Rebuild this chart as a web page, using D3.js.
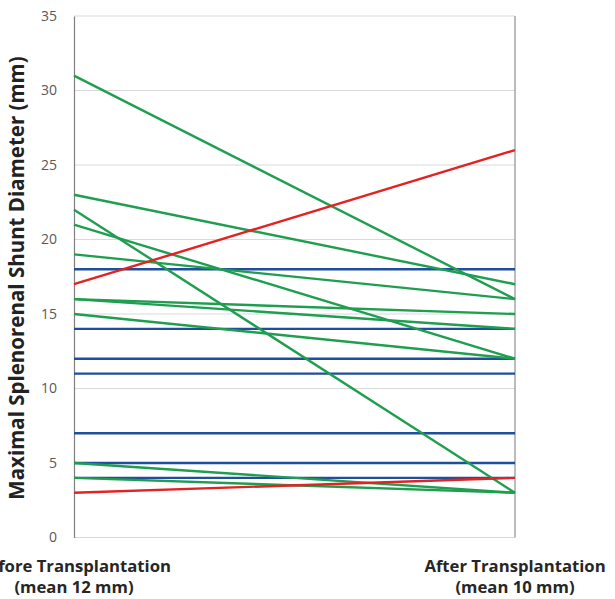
<!DOCTYPE html>
<html>
<head>
<meta charset="utf-8">
<script src="https://cdn.jsdelivr.net/npm/d3@7"></script>
<style>
  body { margin: 0; background: #fff; }
  svg { display: block; }
</style>
</head>
<body>
<div id="chart"></div>
<script>
// categories on the x axis, two lines of text each
const categories = ['before', 'after'];
const categoryLabels = [
  ['Before Transplantation', '(mean 12 mm)'],
  ['After Transplantation', '(mean 10 mm)']
];

// each patient: [before, after] in mm
const decreased = [
  [31, 16], [23, 17], [22, 3], [21, 12], [19, 16],
  [16, 15], [16, 14], [15, 12], [5, 3], [4, 3]
];
const unchanged = [
  [18, 18], [14, 14], [12, 12], [11, 11], [7, 7], [5, 5], [4, 4]
];
const increased = [
  [17, 26], [3, 4]
];

const yTicks = [0, 5, 10, 15, 20, 25, 30, 35];

const width = 615;
const height = 599;
const margin = { top: 16, right: 100, bottom: 61.5, left: 74 };
const font = '"Open Sans", Lato, sans-serif';

const svg = d3
  .select('#chart')
  .append('svg')
  .attr('width', width)
  .attr('height', height);

const x = d3
  .scalePoint()
  .domain(categories)
  .range([margin.left, width - margin.right]);

const y = d3
  .scaleLinear()
  .domain([0, 35])
  .range([height - margin.bottom, margin.top]);

// gridlines
svg
  .append('g')
  .selectAll('line')
  .data(yTicks)
  .enter()
  .append('line')
  .attr('x1', margin.left)
  .attr('x2', width - margin.right)
  .attr('y1', (d) => y(d))
  .attr('y2', (d) => y(d))
  .style('stroke', '#d9d9d9')
  .style('stroke-width', 1);

// y axis
const yAxis = svg
  .append('g')
  .attr('transform', 'translate(' + margin.left + ',0)')
  .call(d3.axisLeft(y).tickValues(yTicks).tickSize(0).tickPadding(17));
yAxis.select('.domain').style('stroke', '#7f7f7f').style('stroke-width', 1.2);
yAxis
  .selectAll('text')
  .style('font-family', font)
  .style('font-size', '14px')
  .style('fill', '#595959');

// right border
svg
  .append('line')
  .attr('x1', width - margin.right)
  .attr('x2', width - margin.right)
  .attr('y1', y(35))
  .attr('y2', y(0))
  .style('stroke', '#a6a6a6')
  .style('stroke-width', 1.5);

const line = d3
  .line()
  .x((d, i) => x(categories[i]))
  .y((d) => y(d));

const addGroup = (data, color) => {
  svg
    .append('g')
    .selectAll('path')
    .data(data)
    .enter()
    .append('path')
    .attr('d', line)
    .style('fill', 'none')
    .style('stroke', color)
    .style('stroke-width', 2.4);
};

addGroup(unchanged, '#1f4e9b');
addGroup(decreased, '#1f9e4f');
addGroup(increased, '#e32222');

// category labels
const catLabels = svg
  .append('g')
  .selectAll('text')
  .data(categoryLabels)
  .enter()
  .append('text')
  .attr('x', (d, i) => x(categories[i]))
  .attr('y', 572)
  .attr('text-anchor', 'middle')
  .style('font-family', font)
  .style('font-weight', 'bold')
  .style('font-size', '16.7px')
  .style('fill', '#262626');

catLabels
  .selectAll('tspan')
  .data((d) => d)
  .enter()
  .append('tspan')
  .attr('x', function () {
    return d3.select(this.parentNode).attr('x');
  })
  .attr('dy', (d, i) => (i === 0 ? 0 : 21))
  .text((d) => d);

// y axis title
svg
  .append('text')
  .attr('transform', 'translate(24,278) rotate(-90)')
  .attr('text-anchor', 'middle')
  .style('font-family', font)
  .style('font-weight', 'bold')
  .style('font-size', '20.5px')
  .style('fill', '#222')
  .text('Maximal Splenorenal Shunt Diameter (mm)');
</script>
</body>
</html>
